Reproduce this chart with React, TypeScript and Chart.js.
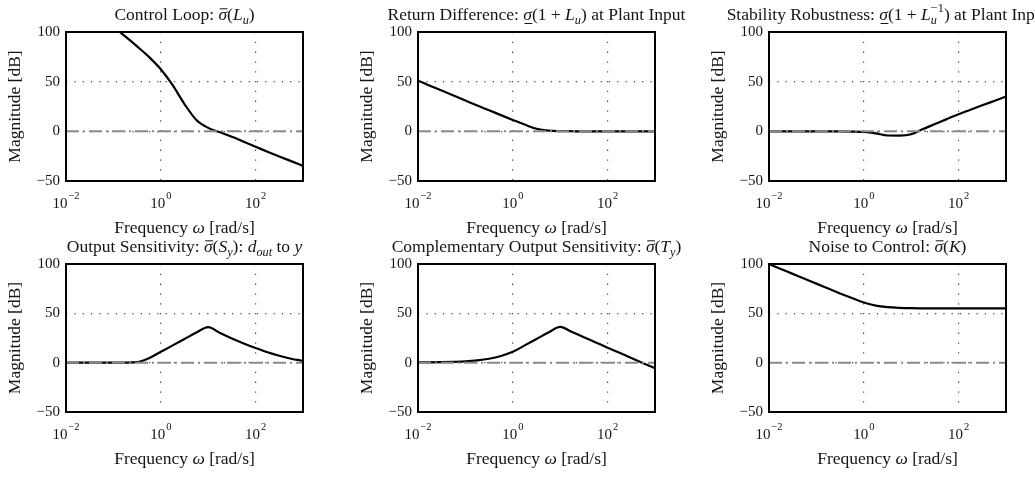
import { useEffect, useRef } from "react";
import { Chart, registerables } from "chart.js";

Chart.register(...registerables);

const PAGE_W = 1035;
const PAGE_H = 477;
const FONT = '"Liberation Serif", "Times New Roman", serif';
const TEXT_COLOR = "#151515";

// Frequency grid [rad/s], four points per decade
const FREQ = [
  0.01, 0.0178, 0.0316, 0.0562, 0.1, 0.178, 0.316, 0.562, 1, 1.78, 3.16, 5.62, 10, 17.8,
  31.6, 56.2, 100, 178, 316, 562, 1000,
];
const FREQ_RANGE = [0.01, 1000];
const FREQ_TICKS = [0.01, 1, 100];
const FREQ_TICK_EXP = ["\u22122", "0", "2"];
const MAG_MIN = -50;
const MAG_MAX = 100;
const MAG_STEP = 50;
const UNITY_DB = 0;

// Singular-value magnitudes [dB] on the FREQ grid
const controlLoopMag = [
  145, 135, 125, 115, 105, 95.5, 85.5, 75, 62.5, 46.5, 27.5, 11.5, 3.5, -1, -5.5, -10.5, -15.5,
  -20.5, -25.3, -30, -34.8,
];
const returnDiffMag = [
  51, 46, 41, 36, 31, 26, 21.2, 16.3, 11.5, 6.8, 2.6, 0.7, 0.2, 0.1, 0, 0, 0, 0, 0, 0, 0,
];
const stabilityMag = [
  0, 0, 0, 0, 0, 0, 0, -0.2, -0.6, -2, -4.2, -4.3, -3, 2.3, 7.3, 12.3, 17.2, 21.7, 26.2, 30.6, 35,
];
const outputSensMag = [
  0, 0, 0, 0, 0, 0.1, 0.5, 4.5, 11, 17.5, 24, 30.5, 36, 30, 24.5, 19.5, 14.8, 10.5, 7, 4, 1.8,
];
const compSensMag = [
  0.2, 0.3, 0.5, 0.8, 1.3, 2.3, 4, 6.8, 11, 17.5, 24, 30.5, 36.3, 31, 25.8, 20.5, 15.2, 10, 4.8,
  -0.5, -5.7,
];
const noiseCtrlMag = [
  100, 95, 90, 85, 80.1, 75.1, 70.2, 65.5, 61, 57.8, 56.2, 55.5, 55.2, 55.1, 55, 55, 55, 55, 55,
  55, 55,
];

// Rich-text pieces for the panel titles
type Seg = { t: string; it?: boolean; pos?: "sub" | "sup"; stack?: string; bar?: "over" | "under" };

const SIGMA_MAX: Seg = { t: "\u03c3", it: true, bar: "over" };
const SIGMA_MIN: Seg = { t: "\u03c3", it: true, bar: "under" };

const titleControlLoop: Seg[] = [
  { t: "Control Loop: " }, SIGMA_MAX, { t: "(" }, { t: "L", it: true }, { t: "u", it: true, pos: "sub" }, { t: ")" },
];
const titleReturnDiff: Seg[] = [
  { t: "Return Difference: " }, SIGMA_MIN, { t: "(1 + " }, { t: "L", it: true },
  { t: "u", it: true, pos: "sub" }, { t: ") at Plant Input" },
];
const titleStability: Seg[] = [
  { t: "Stability Robustness: " }, SIGMA_MIN, { t: "(1 + " }, { t: "L", it: true },
  { t: "u", it: true, pos: "sub", stack: "\u22121" }, { t: ") at Plant Input" },
];
const titleOutputSens: Seg[] = [
  { t: "Output Sensitivity: " }, SIGMA_MAX, { t: "(" }, { t: "S", it: true }, { t: "y", it: true, pos: "sub" },
  { t: "): " }, { t: "d", it: true }, { t: "out", it: true, pos: "sub" }, { t: " to " }, { t: "y", it: true },
];
const titleCompSens: Seg[] = [
  { t: "Complementary Output Sensitivity: " }, SIGMA_MAX, { t: "(" }, { t: "T", it: true },
  { t: "y", it: true, pos: "sub" }, { t: ")" },
];
const titleNoiseCtrl: Seg[] = [
  { t: "Noise to Control: " }, SIGMA_MAX, { t: "(" }, { t: "K", it: true }, { t: ")" },
];

const xLabel: Seg[] = [{ t: "Frequency " }, { t: "\u03c9", it: true }, { t: " [rad/s]" }];
const yLabel = "Magnitude [dB]";

// Grid placement of the six axes
const COL_LEFT = [66, 418, 769];
const PLOT_W = 237;
const ROW_TOP = [32, 264];
const ROW_H = [149, 148];
const Y_AXIS_W = 60;
const X_AXIS_H = 40;

const PANELS = [
  { title: titleControlLoop, mag: controlLoopMag, col: 0, row: 0 },
  { title: titleReturnDiff, mag: returnDiffMag, col: 1, row: 0 },
  { title: titleStability, mag: stabilityMag, col: 2, row: 0 },
  { title: titleOutputSens, mag: outputSensMag, col: 0, row: 1 },
  { title: titleCompSens, mag: compSensMag, col: 1, row: 1 },
  { title: titleNoiseCtrl, mag: noiseCtrlMag, col: 2, row: 1 },
];

const FS_TICK = 15;
const FS_LABEL = 17.5;

function font(size: number, italic?: boolean) {
  return `${italic ? "italic " : ""}${size}px ${FONT}`;
}

function segWidth(ctx: CanvasRenderingContext2D, s: Seg, size: number) {
  const small = size * 0.7;
  ctx.font = font(s.pos ? small : size, s.it);
  let w = ctx.measureText(s.t).width;
  if (s.stack) {
    ctx.font = font(small);
    w = Math.max(w, ctx.measureText(s.stack).width);
  }
  return w;
}

function drawRich(ctx: CanvasRenderingContext2D, segs: Seg[], cx: number, baseline: number, size: number) {
  const total = segs.reduce((a, s) => a + segWidth(ctx, s, size), 0);
  let x = cx - total / 2;
  ctx.fillStyle = TEXT_COLOR;
  ctx.strokeStyle = TEXT_COLOR;
  ctx.textAlign = "left";
  ctx.textBaseline = "alphabetic";
  for (const s of segs) {
    const adv = segWidth(ctx, s, size);
    const small = size * 0.7;
    ctx.font = font(s.pos ? small : size, s.it);
    const w = ctx.measureText(s.t).width;
    const dy = s.pos === "sub" ? size * 0.22 : s.pos === "sup" ? -size * 0.42 : 0;
    ctx.fillText(s.t, x, baseline + dy);
    if (s.stack) {
      ctx.font = font(small);
      ctx.fillText(s.stack, x, baseline - size * 0.45);
    }
    if (s.bar) {
      const y = s.bar === "over" ? baseline - size * 0.64 : baseline + size * 0.2;
      ctx.lineWidth = 1;
      ctx.beginPath();
      ctx.moveTo(x + w * 0.15, y);
      ctx.lineTo(x + w * 1.05, y);
      ctx.stroke();
    }
    x += adv;
  }
}

function panelDecor(title: Seg[]) {
  return {
    id: "panelDecor",
    afterDraw(chart: Chart) {
      const ctx = chart.ctx;
      const { left, right, top, bottom } = chart.chartArea;
      const xs = chart.scales.x;
      ctx.save();
      // axes box
      ctx.strokeStyle = "#000";
      ctx.lineWidth = 2;
      ctx.setLineDash([]);
      ctx.strokeRect(left, top, right - left, bottom - top);

      // title
      drawRich(ctx, title, (left + right) / 2, top - 12, FS_LABEL);

      // decade tick labels 10^n
      FREQ_TICKS.forEach((v, i) => {
        const px = xs.getPixelForValue(v);
        ctx.font = font(FS_TICK);
        const wb = ctx.measureText("10").width;
        ctx.font = font(FS_TICK * 0.7);
        const we = ctx.measureText(FREQ_TICK_EXP[i]).width;
        const x0 = px - (wb + we + 1) / 2;
        ctx.fillStyle = TEXT_COLOR;
        ctx.textAlign = "left";
        ctx.textBaseline = "alphabetic";
        ctx.font = font(FS_TICK);
        ctx.fillText("10", x0, bottom + 27);
        ctx.font = font(FS_TICK * 0.7);
        ctx.fillText(FREQ_TICK_EXP[i], x0 + wb + 1, bottom + 17.5);
      });

      // axis titles
      drawRich(ctx, xLabel, (left + right) / 2, bottom + 51.5, FS_LABEL);
      ctx.translate(left - 46.5, (top + bottom) / 2);
      ctx.rotate(-Math.PI / 2);
      ctx.font = font(FS_LABEL);
      ctx.fillStyle = TEXT_COLOR;
      ctx.textAlign = "center";
      ctx.textBaseline = "alphabetic";
      ctx.fillText(yLabel, 0, 0);
      ctx.restore();
    },
  };
}

function Panel({ p }: { p: (typeof PANELS)[number] }) {
  const ref = useRef<HTMLCanvasElement>(null);
  useEffect(() => {
    if (!ref.current) return;
    const plotLeft = COL_LEFT[p.col];
    const plotTop = ROW_TOP[p.row];
    const plotBottom = plotTop + ROW_H[p.row];
    const chart = new Chart(ref.current, {
      type: "line",
      data: {
        datasets: [
          {
            data: FREQ.map((f, i) => ({ x: f, y: p.mag[i] })),
            borderColor: "#000",
            borderWidth: 2.2,
            pointRadius: 0,
            cubicInterpolationMode: "monotone",
            order: 1,
          },
          {
            data: FREQ_RANGE.map((f) => ({ x: f, y: UNITY_DB })),
            borderColor: "#8a8a8a",
            borderWidth: 2,
            borderDash: [13, 4, 2, 4],
            pointRadius: 0,
            order: 0,
          },
        ],
      },
      options: {
        animation: false,
        responsive: false,
        events: [],
        layout: {
          padding: {
            left: plotLeft - Y_AXIS_W,
            top: plotTop,
            right: PAGE_W - (plotLeft + PLOT_W),
            bottom: PAGE_H - plotBottom - X_AXIS_H,
          },
        },
        plugins: {
          legend: { display: false },
          tooltip: { enabled: false },
          title: { display: false },
        },
        scales: {
          x: {
            type: "logarithmic",
            min: FREQ_RANGE[0],
            max: FREQ_RANGE[1],
            afterBuildTicks: (s: any) => {
              s.ticks = FREQ_TICKS.filter((v) => v > FREQ_RANGE[0]).map((v) => ({ value: v }));
            },
            afterFit: (s: any) => {
              s.height = X_AXIS_H;
            },
            ticks: { display: false },
            grid: { color: "rgba(0,0,0,0.7)", lineWidth: 1.2, drawTicks: false },
            border: { display: false, dash: [1.3, 8.5] },
          },
          y: {
            type: "linear",
            min: MAG_MIN,
            max: MAG_MAX,
            afterFit: (s: any) => {
              s.width = Y_AXIS_W;
            },
            ticks: {
              stepSize: MAG_STEP,
              padding: 6,
              color: TEXT_COLOR,
              font: { family: FONT, size: FS_TICK },
              callback: (v: any) => (Number(v) < 0 ? "\u2212" + Math.abs(Number(v)) : String(v)),
            },
            grid: {
              color: (c: any) =>
                c.tick && (c.tick.value === MAG_MIN || c.tick.value === MAG_MAX)
                  ? "rgba(0,0,0,0)"
                  : "rgba(0,0,0,0.7)",
              lineWidth: 1.2,
              drawTicks: false,
            },
            border: { display: false, dash: [1.3, 7] },
          },
        },
      },
      plugins: [panelDecor(p.title)],
    } as any);
    return () => chart.destroy();
  }, [p]);
  return (
    <canvas
      ref={ref}
      width={PAGE_W}
      height={PAGE_H}
      style={{ position: "absolute", left: 0, top: 0, width: PAGE_W, height: PAGE_H }}
    />
  );
}

export default function App() {
  return (
    <div
      style={{
        position: "absolute",
        left: 0,
        top: 0,
        width: PAGE_W,
        height: PAGE_H,
        background: "#fff",
        overflow: "hidden",
      }}
    >
      {PANELS.map((p, i) => (
        <Panel key={i} p={p} />
      ))}
    </div>
  );
}
